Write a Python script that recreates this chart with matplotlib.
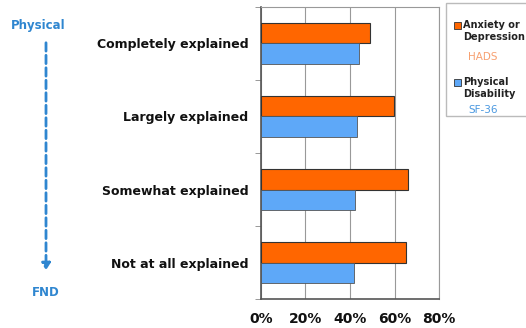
import matplotlib.pyplot as plt
import numpy as np
from matplotlib.patches import Rectangle, FancyArrowPatch

# survey results, top to bottom
categories = ["Completely explained", "Largely explained", "Somewhat explained", "Not at all explained"]
anxiety = [49, 59.5, 66, 65]      # HADS
disability = [44, 43, 42, 41.8]   # SF-36
xticks = [0, 20, 40, 60, 80]

orange = "#FF6600"
blue = "#5EA8F8"
dark_blue = "#2F86D0"

fig = plt.figure(figsize=(5.26, 3.28), dpi=100)
ax = fig.add_axes([0.496, 0.0875, 0.339, 0.892])

n = len(categories)
centers = n - 0.5 - np.arange(n)
h = 0.28
ax.barh(centers + h / 2, anxiety, height=h, color=orange, edgecolor="#333333", linewidth=0.8, zorder=3)
ax.barh(centers - h / 2, disability, height=h, color=blue, edgecolor="#555555", linewidth=0.6, zorder=3)

ax.set_xlim(0, 80)
ax.set_ylim(0, n)
ax.set_xticks(xticks)
ax.set_xticklabels([f"{t}%" for t in xticks], fontsize=10, fontweight="bold", color="#111111")
ax.set_yticks(centers)
ax.set_yticklabels(categories, fontsize=9, fontweight="bold", color="#111111")
ax.tick_params(axis="y", length=0, pad=9)
ax.tick_params(axis="x", length=0, pad=9)
ax.set_yticks(np.arange(n + 1), minor=True)
ax.tick_params(axis="y", which="minor", length=4, color="#888888")
ax.xaxis.grid(True, color="#999999", linewidth=0.8, zorder=0)
for side in ["top", "right"]:
    ax.spines[side].set_color("#999999")
for side in ["left", "bottom"]:
    ax.spines[side].set_color("#555555")
    ax.spines[side].set_linewidth(1.2)

# legend box with measure names
fig.patches.append(Rectangle((446 / 526, 1 - 116 / 328), 0.2, 113 / 328, transform=fig.transFigure,
                             facecolor="white", edgecolor="#bbbbbb", linewidth=1))
fig.patches.append(Rectangle((454 / 526, 1 - 29 / 328), 7 / 526, 7 / 328, transform=fig.transFigure,
                             facecolor=orange, edgecolor="#333333", linewidth=0.6))
fig.text(463 / 526, 1 - 31 / 328, "Anxiety or\nDepression", fontsize=7, fontweight="bold",
         color="#222222", va="center", ha="left", linespacing=1.35)
fig.text(468 / 526, 1 - 57 / 328, "HADS", fontsize=7.5, color="#F7A070", va="center", ha="left")
fig.patches.append(Rectangle((454 / 526, 1 - 86 / 328), 7 / 526, 7 / 328, transform=fig.transFigure,
                             facecolor=blue, edgecolor="#333333", linewidth=0.6))
fig.text(463 / 526, 1 - 88 / 328, "Physical\nDisability", fontsize=7, fontweight="bold",
         color="#222222", va="center", ha="left", linespacing=1.35)
fig.text(468 / 526, 1 - 110 / 328, "SF-36", fontsize=7.5, color="#4A98E0", va="center", ha="left")

# physical -> FND arrow on the left
fig.text(38 / 526, 1 - 26 / 328, "Physical", fontsize=8.5, fontweight="bold", color=dark_blue,
         ha="center", va="center")
fig.text(46 / 526, 1 - 292 / 328, "FND", fontsize=8.5, fontweight="bold", color=dark_blue,
         ha="center", va="center")
arrow = FancyArrowPatch((46 / 526, 1 - 40 / 328), (46 / 526, 1 - 273 / 328), transform=fig.transFigure,
                        arrowstyle="-|>,head_length=4,head_width=2.5", color=dark_blue,
                        linestyle=(0, (3, 1.5)), linewidth=2)
fig.patches.append(arrow)

fig.savefig("out.png", dpi=100)
